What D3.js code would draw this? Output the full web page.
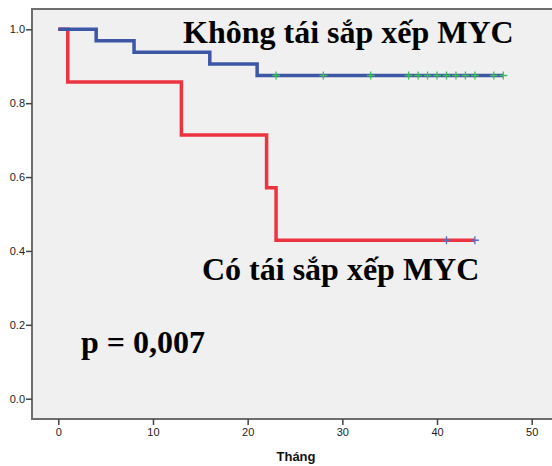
<!DOCTYPE html>
<html>
<head>
<meta charset="utf-8">
<script src="https://cdn.jsdelivr.net/npm/d3@7"></script>
<style>
  body { margin: 0; background: #fff; }
  .axis text { font-family: "Liberation Sans", Arial, sans-serif; font-size: 11px; fill: #222; }
  .axis line { stroke: #444; stroke-width: 1.5; }
  .big { font-family: "Liberation Serif", "Times New Roman", serif; font-weight: bold; fill: #000; }
</style>
</head>
<body>
<div id="content"></div>
<script>
const width = 552;
const height = 466;

// Kaplan-Meier steps
const noTimes = [0, 4, 8, 16, 21, 47];
const noSurv = [1, 0.969, 0.938, 0.906, 0.875, 0.875];
const noCensor = [23, 28, 33, 37, 38, 39, 40, 41, 42, 43, 44, 46, 47];

const yesTimes = [0, 1, 13, 22, 23, 44];
const yesSurv = [1, 0.857, 0.714, 0.571, 0.429, 0.429];
const yesCensor = [41, 44];

const xTicks = [0, 10, 20, 30, 40, 50];
const yTicks = [0, 0.2, 0.4, 0.6, 0.8, 1.0];

const labelNo = "Không tái sắp xếp MYC";
const labelYes = "Có tái sắp xếp MYC";
const pLabel = "p = 0,007";
const xTitle = "Tháng";

const blue = "#3d57a7";
const red = "#ee3340";

var svg = d3.select("#content").append("svg")
    .attr("width", width)
    .attr("height", height);

var frame = {left: 32, top: 9, right: 553, bottom: 419};

var x = d3.scaleLinear().domain([0, 50]).range([58.3, 531.7]);
var y = d3.scaleLinear().domain([0, 1]).range([398.7, 29.3]);

// plot background + frame
svg.append("rect")
    .attr("x", frame.left).attr("y", frame.top)
    .attr("width", frame.right - frame.left)
    .attr("height", frame.bottom - frame.top)
    .attr("fill", "#f0f0f0")
    .attr("stroke", "#6e6e6e")
    .attr("stroke-width", 2);

// axes
var xAxis = svg.append("g")
    .attr("class", "axis")
    .attr("transform", `translate(0, ${frame.bottom})`)
    .call(d3.axisBottom(x).tickValues(xTicks).tickSize(6).tickPadding(3).tickFormat(d3.format("d")));
xAxis.select(".domain").remove();

var yAxis = svg.append("g")
    .attr("class", "axis")
    .attr("transform", `translate(${frame.left}, 0)`)
    .call(d3.axisLeft(y).tickValues(yTicks).tickSize(6).tickPadding(1).tickFormat(d3.format(".1f")));
yAxis.select(".domain").remove();

svg.append("text").text(xTitle)
    .attr("x", 296).attr("y", 461)
    .attr("text-anchor", "middle")
    .attr("font-family", "Liberation Sans, Arial, sans-serif")
    .attr("font-weight", "bold")
    .attr("font-size", 13)
    .attr("fill", "#111");

// step curves
var line = d3.line()
    .x(d => x(d[0]))
    .y(d => y(d[1]))
    .curve(d3.curveStepAfter);

function drawCurve(times, surv, color) {
    svg.append("path")
        .datum(d3.zip(times, surv))
        .attr("d", line)
        .attr("fill", "none")
        .attr("stroke", color)
        .attr("stroke-width", 3.5)
        .attr("stroke-linejoin", "miter");
}

function drawCensor(times, level, color) {
    times.forEach(t => {
        var cx = x(t), cy = y(level);
        svg.append("path")
            .attr("d", `M${cx - 4},${cy}H${cx + 4}M${cx},${cy - 4}V${cy + 4}`)
            .attr("stroke", color)
            .attr("stroke-width", 1.3)
            .attr("fill", "none");
    });
}

drawCurve(yesTimes, yesSurv, red);
drawCurve(noTimes, noSurv, blue);
drawCensor(yesCensor, yesSurv[yesSurv.length - 1], "#5a6cc0");
drawCensor(noCensor, noSurv[noSurv.length - 1], "#3fbf5a");

// annotations
svg.append("text").attr("class", "big").text(labelNo)
    .attr("x", 183).attr("y", 43).attr("font-size", 32);
svg.append("text").attr("class", "big").text(labelYes)
    .attr("x", 202).attr("y", 280).attr("font-size", 32);
svg.append("text").attr("class", "big").text(pLabel)
    .attr("x", 81).attr("y", 353).attr("font-size", 32);
</script>
</body>
</html>
